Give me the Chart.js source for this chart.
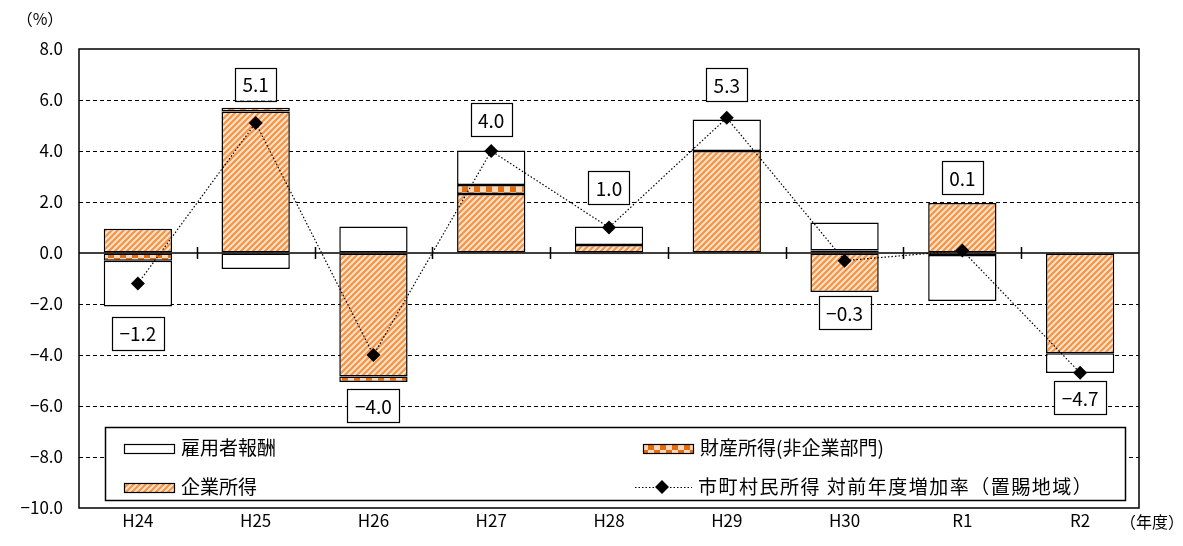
<!DOCTYPE html>
<html lang="ja">
<head>
<meta charset="UTF-8">
<title>市町村民所得 対前年度増加率（置賜地域）</title>
<script src="https://cdn.jsdelivr.net/npm/chart.js"></script>
<style>
  html, body { margin: 0; padding: 0; background: #fff; }
  #wrap { position: relative; width: 1183px; height: 546px; }
</style>
</head>
<body>
<div id="wrap"><canvas id="chart"></canvas></div>
<script>
// 年度
const years = ['H24', 'H25', 'H26', 'H27', 'H28', 'H29', 'H30', 'R1', 'R2'];
// 寄与度 (%)
const enterprise = [0.95, 5.55, -4.84, 2.31, 0.31, 4.0, -1.53, 1.96, -3.93];   // 企業所得
const property   = [-0.3, 0.15, -0.22, 0.36, -0.05, 0.0, 0.1, -0.08, 0.0];     // 財産所得(非企業部門)
const employee   = [-1.8, -0.63, 1.04, 1.35, 0.73, 1.24, 1.1, -1.8, -0.78];    // 雇用者報酬
// 市町村民所得 対前年度増加率
const totalRate  = [-1.2, 5.1, -4.0, 4.0, 1.0, 5.3, -0.3, 0.1, -4.7];

const FONT = '"Noto Sans CJK JP", "Noto Sans", sans-serif';
const fmt = v => (v < 0 ? '\u2212' : '') + Math.abs(v).toFixed(1);

// 斜線パターン（企業所得）
function makeHatch() {
  const c = document.createElement('canvas');
  c.width = 6; c.height = 6;
  const g = c.getContext('2d');
  g.fillStyle = '#fde3cc';
  g.fillRect(0, 0, 6, 6);
  g.strokeStyle = '#f59343';
  g.lineWidth = 2.2;
  g.beginPath();
  g.moveTo(-1, 7); g.lineTo(7, -1);
  g.moveTo(-4, 4); g.lineTo(4, -4);
  g.moveTo(2, 10); g.lineTo(10, 2);
  g.stroke();
  return g.createPattern(c, 'repeat');
}
// 格子パターン（財産所得）
function makeCheck() {
  const c = document.createElement('canvas');
  c.width = 12; c.height = 12;
  const g = c.getContext('2d');
  g.fillStyle = '#fcd9bc';
  g.fillRect(0, 0, 12, 12);
  g.fillStyle = '#e46c0a';
  g.fillRect(0, 0, 6, 6);
  g.fillRect(6, 6, 6, 6);
  return g.createPattern(c, 'repeat');
}
const hatch = makeHatch();
const check = makeCheck();

// ゼロ線・枠線
const framePlugin = {
  id: 'frame',
  beforeDatasetsDraw(chart) {
    const { ctx, chartArea: a, scales: { y } } = chart;
    const y0 = y.getPixelForValue(0);
    const step = (a.right - a.left) / years.length;
    ctx.save();
    ctx.strokeStyle = '#000';
    ctx.lineWidth = 1.5;
    ctx.beginPath();
    ctx.moveTo(a.left, y0); ctx.lineTo(a.right, y0);
    for (let i = 1; i < years.length; i++) {
      const px = Math.round(a.left + step * i) + 0.5;
      ctx.moveTo(px, y0 - 6); ctx.lineTo(px, y0 + 6);
    }
    ctx.stroke();
    ctx.restore();
  },
  afterDraw(chart) {
    const { ctx, chartArea: a } = chart;
    ctx.save();
    ctx.strokeStyle = '#000';
    ctx.lineWidth = 1.5;
    ctx.strokeRect(a.left, a.top, a.right - a.left, a.bottom - a.top);
    ctx.fillStyle = '#000';
    ctx.font = '16px ' + FONT;
    ctx.textAlign = 'center';
    ctx.textBaseline = 'middle';
    ctx.fillText('（%）', 40, 19);
    ctx.fillText('（年度）', 1152, 522);
    ctx.restore();
  }
};

// データラベル
const labelPlugin = {
  id: 'boxLabels',
  afterDatasetsDraw(chart, args, opts) {
    const { ctx, scales: { x, y } } = chart;
    ctx.save();
    ctx.font = '19px ' + FONT;
    ctx.textAlign = 'center';
    ctx.textBaseline = 'middle';
    totalRate.forEach((v, i) => {
      const parts = [enterprise[i], property[i], employee[i]];
      const pos = parts.filter(p => p > 0).reduce((s, p) => s + p, 0);
      const neg = parts.filter(p => p < 0).reduce((s, p) => s + p, 0);
      const txt = fmt(v);
      const w = ctx.measureText(txt).width + 15;
      const h = 33;
      const gap = opts.gaps[i];
      const cx = x.getPixelForValue(i);
      let top;
      if (v >= 0) top = y.getPixelForValue(pos) - gap - h;
      else top = y.getPixelForValue(neg) + gap;
      ctx.fillStyle = '#fff';
      ctx.fillRect(cx - w / 2, top, w, h);
      ctx.strokeStyle = '#000';
      ctx.lineWidth = 1.2;
      ctx.strokeRect(Math.round(cx - w / 2) + 0.5, Math.round(top) + 0.5, Math.round(w), h);
      ctx.fillStyle = '#000';
      ctx.fillText(txt, cx, top + h / 2 + 1);
    });
    ctx.restore();
  }
};

// 凡例
const legendPlugin = {
  id: 'boxLegend',
  afterDraw(chart) {
    const { ctx } = chart;
    ctx.save();
    ctx.fillStyle = '#fff';
    ctx.fillRect(105, 427, 1020, 73);
    ctx.strokeStyle = '#000';
    ctx.lineWidth = 1.5;
    ctx.strokeRect(105.5, 427.5, 1020, 73);
    ctx.font = '19px ' + FONT;
    ctx.textBaseline = 'middle';
    ctx.textAlign = 'left';
    const items = [
      { x: 124, y: 448, fill: '#fff', text: '雇用者報酬' },
      { x: 643, y: 448, fill: check, text: '財産所得(非企業部門)' },
      { x: 124, y: 487, fill: hatch, text: '企業所得' },
    ];
    items.forEach(it => {
      ctx.fillStyle = it.fill;
      ctx.fillRect(it.x, it.y - 4, 50, 9);
      ctx.lineWidth = 1.2;
      ctx.strokeStyle = '#000';
      ctx.strokeRect(it.x + 0.5, it.y - 4 + 0.5, 50, 9);
      ctx.fillStyle = '#000';
      ctx.fillText(it.text, it.x + 57, it.y);
    });
    // 折れ線
    ctx.strokeStyle = '#000';
    ctx.lineWidth = 1;
    ctx.setLineDash([1.5, 2]);
    ctx.beginPath();
    ctx.moveTo(635, 487.5); ctx.lineTo(692, 487.5);
    ctx.stroke();
    ctx.setLineDash([]);
    ctx.beginPath();
    ctx.moveTo(662, 480); ctx.lineTo(669, 487); ctx.lineTo(662, 494); ctx.lineTo(655, 487);
    ctx.closePath();
    ctx.fill();
    ctx.fillStyle = '#000';
    ctx.letterSpacing = '1.5px';
    ctx.fillText('市町村民所得 対前年度増加率（置賜地域）', 698, 487);
    ctx.restore();
  }
};

const barCommon = {
  type: 'bar',
  stack: 'income',
  borderColor: '#000',
  borderWidth: 1.5,
  borderSkipped: false,
  categoryPercentage: 1,
  barPercentage: 0.58
};

new Chart(document.getElementById('chart'), {
  data: {
    labels: years,
    datasets: [
      {
        type: 'line',
        label: '市町村民所得 対前年度増加率（置賜地域）',
        data: totalRate,
        stack: 'rate',
        borderColor: '#000',
        borderWidth: 1.2,
        borderDash: [1.5, 2],
        pointStyle: 'rectRot',
        pointRadius: 7,
        pointBackgroundColor: '#000',
        pointBorderWidth: 0,
        fill: false,
        tension: 0
      },
      Object.assign({ label: '企業所得', data: enterprise, backgroundColor: hatch }, barCommon),
      Object.assign({ label: '財産所得(非企業部門)', data: property, backgroundColor: check }, barCommon),
      Object.assign({ label: '雇用者報酬', data: employee, backgroundColor: '#fff' }, barCommon)
    ]
  },
  options: {
    responsive: true,
    maintainAspectRatio: false,
    animation: false,
    layout: { padding: { left: 0, right: 44, top: 49, bottom: 0 } },
    plugins: {
      legend: { display: false },
      tooltip: { enabled: false },
      boxLabels: { gaps: [10, 7, 7, 14, 22, 18, 4, 9, 8] }
    },
    scales: {
      x: {
        stacked: true,
        grid: { display: false, drawTicks: false },
        border: { display: false },
        ticks: { color: '#000', font: { family: FONT, size: 17 }, padding: 2 },
        afterFit(scale) { scale.height = 38; }
      },
      y: {
        stacked: true,
        min: -10,
        max: 8,
        ticks: {
          stepSize: 2,
          color: '#000',
          padding: 16,
          font: { family: FONT, size: 17 },
          callback: v => fmt(v)
        },
        grid: {
          drawTicks: false,
          lineWidth: 1,
          color: c => (c.tick && (c.tick.value === 0 || c.tick.value === 8 || c.tick.value === -10)) ? 'rgba(0,0,0,0)' : '#000'
        },
        border: { display: false, dash: [4, 3] },
        afterFit(scale) { scale.width = 79; }
      }
    }
  },
  plugins: [framePlugin, labelPlugin, legendPlugin]
});
</script>
</body>
</html>
